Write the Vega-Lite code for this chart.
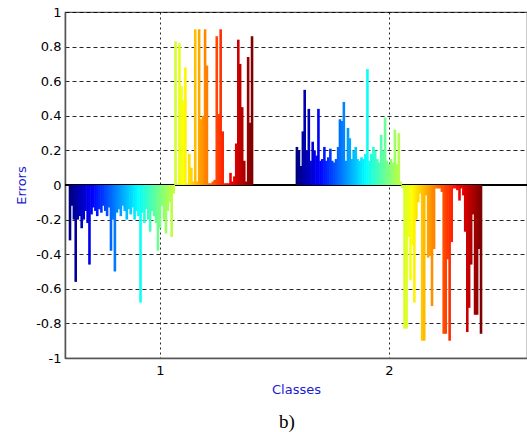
{
  "$schema": "https://vega.github.io/schema/vega-lite/v6.json",
  "width": 462,
  "height": 346,
  "autosize": {"type": "none"},
  "padding": {"left": 65, "top": 12, "right": 0, "bottom": 74},
  "background": "white",
  "title": {"text": "b)", "orient": "bottom", "font": "Liberation Serif", "fontSize": 19, "fontWeight": "normal", "color": "#000", "offset": 17, "anchor": "middle", "dx": -9},
  "config": {
    "view": {"stroke": "#555", "strokeWidth": 1.2},
    "axis": {"labelFont": "DejaVu Sans", "labelFontSize": 13, "labelColor": "#000", "titleFont": "DejaVu Sans", "titleFontSize": 13, "titleFontWeight": "normal", "titleColor": "#1a1ad0", "domainColor": "#555", "domainWidth": 1.5, "ticks": false, "gridColor": "#000", "gridOpacity": 0.85, "gridWidth": 1}
  },
  "data": {"values": [
    {"x":0.607,"y":-0.32},{"x":0.615,"y":-0.12},{"x":0.624,"y":-0.2},{"x":0.632,"y":-0.56},{"x":0.641,"y":-0.2},{"x":0.650,"y":-0.18},{"x":0.658,"y":-0.25},{"x":0.667,"y":-0.2},{"x":0.675,"y":-0.15},{"x":0.684,"y":-0.22},
    {"x":0.692,"y":-0.46},{"x":0.701,"y":-0.17},{"x":0.709,"y":-0.13},{"x":0.718,"y":-0.15},{"x":0.726,"y":-0.18},{"x":0.735,"y":-0.14},{"x":0.744,"y":-0.16},{"x":0.752,"y":-0.12},{"x":0.761,"y":-0.15},{"x":0.769,"y":-0.18},
    {"x":0.778,"y":-0.13},{"x":0.786,"y":-0.38},{"x":0.795,"y":-0.2},{"x":0.803,"y":-0.5},{"x":0.812,"y":-0.16},{"x":0.821,"y":-0.14},{"x":0.829,"y":-0.18},{"x":0.838,"y":-0.12},{"x":0.846,"y":-0.15},{"x":0.855,"y":-0.2},
    {"x":0.863,"y":-0.14},{"x":0.872,"y":-0.17},{"x":0.880,"y":-0.13},{"x":0.889,"y":-0.2},{"x":0.897,"y":-0.15},{"x":0.906,"y":-0.18},{"x":0.915,"y":-0.68},{"x":0.923,"y":-0.16},{"x":0.932,"y":-0.22},{"x":0.940,"y":-0.14},
    {"x":0.949,"y":-0.2},{"x":0.957,"y":-0.27},{"x":0.966,"y":-0.15},{"x":0.974,"y":-0.18},{"x":0.983,"y":-0.22},{"x":0.991,"y":-0.38},{"x":1.000,"y":-0.25},{"x":1.009,"y":-0.12},{"x":1.017,"y":-0.2},{"x":1.026,"y":-0.28},
    {"x":1.034,"y":-0.15},{"x":1.043,"y":-0.1},{"x":1.051,"y":-0.3},{"x":1.060,"y":-0.05},
    {"x":1.068,"y":0.83},{"x":1.077,"y":0.01},{"x":1.085,"y":0.82},{"x":1.094,"y":0.57},{"x":1.103,"y":0.49},{"x":1.111,"y":0.68},{"x":1.120,"y":0.01},{"x":1.128,"y":0.18},{"x":1.137,"y":0.1},{"x":1.145,"y":0.02},
    {"x":1.154,"y":0.9},{"x":1.162,"y":0.02},{"x":1.171,"y":0.9},{"x":1.179,"y":0.38},{"x":1.188,"y":0.4},{"x":1.197,"y":0.9},{"x":1.205,"y":0.69},{"x":1.214,"y":0.01},{"x":1.222,"y":0.01},{"x":1.231,"y":0.02},
    {"x":1.239,"y":0.03},{"x":1.248,"y":0.86},{"x":1.256,"y":0.41},{"x":1.265,"y":0.9},{"x":1.274,"y":0.31},{"x":1.282,"y":0.01},{"x":1.291,"y":0.01},{"x":1.299,"y":0.01},{"x":1.308,"y":0.07},{"x":1.316,"y":0.02},
    {"x":1.325,"y":0.05},{"x":1.333,"y":0.24},{"x":1.342,"y":0.84},{"x":1.350,"y":0.7},{"x":1.359,"y":0.45},{"x":1.368,"y":0.14},{"x":1.376,"y":0.02},{"x":1.385,"y":0.74},{"x":1.393,"y":0.36},{"x":1.402,"y":0.86},
    {"x":1.598,"y":0.22},{"x":1.607,"y":0.2},{"x":1.615,"y":0.11},{"x":1.624,"y":0.31},{"x":1.632,"y":0.55},{"x":1.641,"y":0.2},{"x":1.650,"y":0.44},{"x":1.658,"y":0.14},{"x":1.667,"y":0.25},{"x":1.675,"y":0.2},
    {"x":1.684,"y":0.17},{"x":1.692,"y":0.44},{"x":1.701,"y":0.14},{"x":1.709,"y":0.15},{"x":1.718,"y":0.22},{"x":1.726,"y":0.14},{"x":1.735,"y":0.16},{"x":1.744,"y":0.21},{"x":1.752,"y":0.14},{"x":1.761,"y":0.13},
    {"x":1.769,"y":0.15},{"x":1.778,"y":0.22},{"x":1.786,"y":0.38},{"x":1.795,"y":0.37},{"x":1.803,"y":0.48},{"x":1.812,"y":0.14},{"x":1.821,"y":0.33},{"x":1.829,"y":0.27},{"x":1.838,"y":0.15},{"x":1.846,"y":0.2},
    {"x":1.855,"y":0.22},{"x":1.863,"y":0.15},{"x":1.872,"y":0.14},{"x":1.880,"y":0.16},{"x":1.889,"y":0.15},{"x":1.897,"y":0.18},{"x":1.906,"y":0.67},{"x":1.915,"y":0.14},{"x":1.923,"y":0.18},{"x":1.932,"y":0.22},
    {"x":1.940,"y":0.2},{"x":1.949,"y":0.15},{"x":1.957,"y":0.13},{"x":1.966,"y":0.29},{"x":1.974,"y":0.2},{"x":1.983,"y":0.39},{"x":1.991,"y":0.14},{"x":2.000,"y":0.12},{"x":2.009,"y":0.15},{"x":2.017,"y":0.13},
    {"x":2.026,"y":0.32},{"x":2.034,"y":0.12},{"x":2.043,"y":0.3},{"x":2.051,"y":0.02},
    {"x":2.060,"y":-0.02},{"x":2.068,"y":-0.83},{"x":2.077,"y":-0.83},{"x":2.085,"y":-0.3},{"x":2.094,"y":-0.55},{"x":2.103,"y":-0.35},{"x":2.111,"y":-0.68},{"x":2.120,"y":-0.2},{"x":2.128,"y":-0.1},{"x":2.137,"y":-0.05},
    {"x":2.145,"y":-0.9},{"x":2.154,"y":-0.9},{"x":2.162,"y":-0.06},{"x":2.171,"y":-0.42},{"x":2.179,"y":-0.41},{"x":2.188,"y":-0.7},{"x":2.197,"y":-0.37},{"x":2.205,"y":-0.02},{"x":2.214,"y":-0.02},{"x":2.222,"y":-0.02},
    {"x":2.231,"y":-0.04},{"x":2.239,"y":-0.86},{"x":2.248,"y":-0.86},{"x":2.256,"y":-0.43},{"x":2.265,"y":-0.9},{"x":2.274,"y":-0.33},{"x":2.282,"y":-0.02},{"x":2.291,"y":-0.02},{"x":2.299,"y":-0.03},{"x":2.308,"y":-0.09},
    {"x":2.316,"y":-0.02},{"x":2.325,"y":-0.06},{"x":2.333,"y":-0.27},{"x":2.342,"y":-0.85},{"x":2.350,"y":-0.71},{"x":2.359,"y":-0.46},{"x":2.368,"y":-0.17},{"x":2.376,"y":-0.75},{"x":2.385,"y":-0.75},{"x":2.393,"y":-0.37},
    {"x":2.402,"y":-0.86}
  ]},
  "encoding": {
    "x": {"field": "x", "type": "quantitative", "scale": {"domain": [0.607, 2.581], "nice": false, "zero": false},
      "axis": {"values": [1, 2], "title": "Classes", "labelPadding": 6, "titlePadding": 6, "gridDash": [2, 3], "domain": true, "grid": true}},
    "y": {"field": "y", "type": "quantitative", "scale": {"domain": [-1, 1], "nice": false},
      "axis": {"values": [-1, -0.8, -0.6, -0.4, -0.2, 0, 0.2, 0.4, 0.6, 0.8, 1], "title": "Errors", "labelPadding": 4, "titlePadding": 7, "gridDash": [4, 3], "labelExpr": "replace(format(datum.value, '~g'), '−', '-')"}}
  },
  "layer": [
    {
      "mark": {"type": "rule", "color": "#000", "strokeWidth": 1.2},
      "encoding": {"y": {"datum": 0}, "x": {"value": 0}, "x2": {"value": 462}}
    },
    {
      "transform": [{"filter": "datum.x < 1.5"}],
      "mark": {"type": "bar", "width": 2.6, "clip": true},
      "encoding": {"color": {"field": "x", "type": "quantitative", "legend": null,
        "scale": {"domain": [0.607, 1.402], "range": ["#00007f", "#0000ff", "#007fff", "#00ffff", "#7fff7f", "#ffff00", "#ff7f00", "#ff0000", "#7f0000"], "interpolate": "rgb"}}}
    },
    {
      "transform": [{"filter": "datum.x > 1.5"}],
      "mark": {"type": "bar", "width": 2.6, "clip": true},
      "encoding": {"color": {"field": "x", "type": "quantitative", "legend": null,
        "scale": {"domain": [1.598, 2.402], "range": ["#00007f", "#0000ff", "#007fff", "#00ffff", "#7fff7f", "#ffff00", "#ff7f00", "#ff0000", "#7f0000"], "interpolate": "rgb"}}}
    }
  ],
  "resolve": {"scale": {"color": "independent"}}
}
